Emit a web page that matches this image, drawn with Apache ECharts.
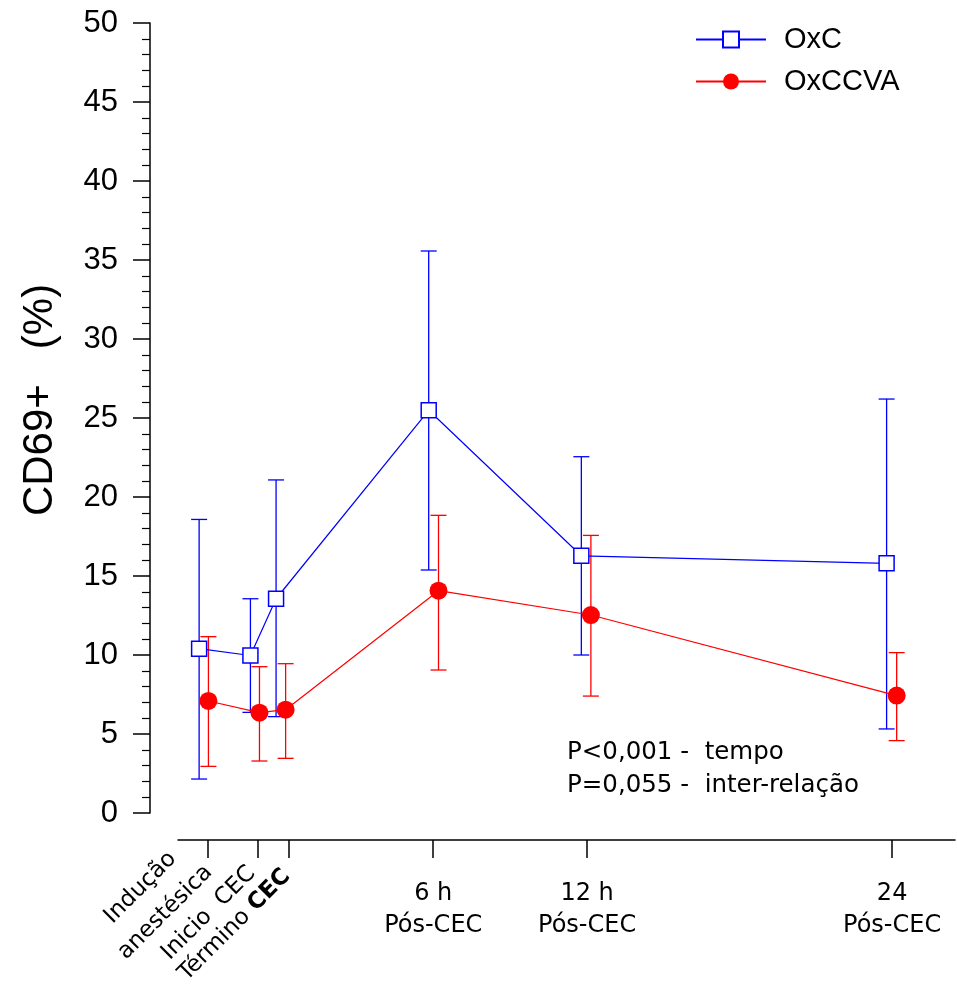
<!DOCTYPE html>
<html>
<head>
<meta charset="utf-8">
<script src="https://cdn.jsdelivr.net/npm/echarts@6/dist/echarts.min.js"></script>
<style>
html,body{margin:0;padding:0;background:#fff;}
#chart{width:957px;height:989px;}
</style>
</head>
<body>
<div id="chart"></div>
<script>
// ---- data (x in hours relative to end of CEC) ----
const timeTicks = [-3.21, -1.23, 0, 5.75, 11.87, 24.0];
const tickLabels = ['Indução\nanestésica', 'Inicio  CEC', 'Término CEC', '6 h\nPós-CEC', '12 h\nPós-CEC', '24\nPós-CEC'];
const yTicks = [0, 5, 10, 15, 20, 25, 30, 35, 40, 45, 50];

const oxcX    = [-3.56, -1.52, -0.50, 5.57, 11.64, 23.78];
const oxcMean = [10.4, 9.97, 13.56, 25.49, 16.28, 15.8];
const oxcLow  = [2.15, 6.37, 6.1, 15.38, 10.0, 5.32];
const oxcHigh = [18.58, 13.56, 21.08, 35.57, 22.55, 26.2];

const ccvaX    = [-3.19, -1.16, -0.12, 5.96, 12.02, 24.18];
const ccvaMean = [7.09, 6.35, 6.54, 14.07, 12.53, 7.43];
const ccvaLow  = [2.95, 3.29, 3.46, 9.05, 7.4, 4.58];
const ccvaHigh = [11.16, 9.26, 9.45, 18.84, 17.57, 10.15];

const seriesNames = ['OxC', 'OxCCVA'];
const statLines = ['P<0,001 -  tempo', 'P=0,055 -  inter-relação'];
const yTitle = 'CD69+   (%)';

// ---- build ----
const BLUE = '#0000ff', RED = '#ff0000';
const chart = echarts.init(document.getElementById('chart'), null, {renderer: 'canvas'});

function errBar(color) {
  return function (params, api) {
    const x = api.value(0), lo = api.value(1), hi = api.value(2);
    const pt = api.coord([x, hi]);
    const pb = api.coord([x, lo]);
    const w = 8;
    const st = {stroke: color, lineWidth: 1.3};
    return {
      type: 'group',
      children: [
        {type: 'line', shape: {x1: pt[0], y1: pt[1], x2: pb[0], y2: pb[1]}, style: st},
        {type: 'line', shape: {x1: pt[0] - w, y1: pt[1], x2: pt[0] + w, y2: pt[1]}, style: st},
        {type: 'line', shape: {x1: pb[0] - w, y1: pb[1], x2: pb[0] + w, y2: pb[1]}, style: st}
      ]
    };
  };
}

const axisFont = 'Liberation Sans, Arial, sans-serif';
const labFont = 'DejaVu Sans, Verdana, sans-serif';

const option = {
  animation: false,
  backgroundColor: '#fff',
  grid: {left: 178, right: 2, top: 23, bottom: 176, containLabel: false},
  legend: {
    orient: 'vertical',
    left: 695, top: 25, padding: 0,
    itemWidth: 70, itemHeight: 20, itemGap: 13,
    data: seriesNames,
    textStyle: {fontFamily: axisFont, fontSize: 29, color: '#000', padding: [0, 0, 0, 13]}
  },
  xAxis: {
    type: 'value', min: -4.4, max: 26.5,
    offset: 27,
    splitLine: {show: false},
    axisLine: {show: true, onZero: false, lineStyle: {color: '#000', width: 1.5}},
    axisTick: {show: true, inside: false, length: 18, lineStyle: {color: '#000', width: 1.5}, customValues: timeTicks},
    axisLabel: {
      show: true, margin: 38, customValues: timeTicks.slice(3),
      fontFamily: labFont, fontSize: 24, color: '#000', lineHeight: 32, align: 'center',
      formatter: function (v) {
        let best = 0, d = 1e9;
        timeTicks.forEach((t, i) => { if (Math.abs(t - v) < d) { d = Math.abs(t - v); best = i; } });
        return tickLabels[best];
      }
    }
  },
  yAxis: {
    type: 'value', min: 0, max: 50, interval: 5,
    offset: 28,
    splitLine: {show: false},
    axisLine: {show: true, onZero: false, lineStyle: {color: '#000', width: 1.5}},
    axisTick: {show: true, length: 17, lineStyle: {color: '#000', width: 1.5}},
    minorTick: {show: true, splitNumber: 5, length: 8, lineStyle: {color: '#000', width: 1.2}},
    axisLabel: {margin: 32, fontFamily: axisFont, fontSize: 31, color: '#000',
      formatter: v => (yTicks.indexOf(v) >= 0 ? String(v) : '')}
  },
  series: [
    {
      type: 'custom', name: 'errOxC', renderItem: errBar(BLUE), z: 1,
      data: oxcX.map((x, i) => [x, oxcLow[i], oxcHigh[i]]),
      encode: {x: 0, y: [1, 2]}, silent: true
    },
    {
      type: 'custom', name: 'errCCVA', renderItem: errBar(RED), z: 1,
      data: ccvaX.map((x, i) => [x, ccvaLow[i], ccvaHigh[i]]),
      encode: {x: 0, y: [1, 2]}, silent: true
    },
    {
      type: 'line', name: seriesNames[0], z: 3,
      data: oxcX.map((x, i) => [x, oxcMean[i]]),
      symbol: 'rect', symbolSize: 15,
      lineStyle: {color: BLUE, width: 1.2},
      itemStyle: {color: '#fff', borderColor: BLUE, borderWidth: 1.5},
      color: BLUE
    },
    {
      type: 'line', name: seriesNames[1], z: 4,
      data: ccvaX.map((x, i) => [x, ccvaMean[i]]),
      symbol: 'circle', symbolSize: 18,
      lineStyle: {color: RED, width: 1.2},
      itemStyle: {color: RED, borderColor: RED, borderWidth: 0},
      color: RED
    }
  ]
};
chart.setOption(option);

// rotated tick labels and other text
const offs = [[-55, 60], [-49, 73], [-54, 85]];
const gfx = [];
for (let i = 0; i < 3; i++) {
  const p = chart.convertToPixel({xAxisIndex: 0}, timeTicks[i]);
  const txt = i === 2 ? 'Término {b|CEC}' : tickLabels[i];
  gfx.push({
    type: 'text', x: p + offs[i][0], y: 840 + offs[i][1], rotation: Math.PI / 4,
    style: {
      text: txt, align: 'center', verticalAlign: 'middle',
      fontFamily: labFont, fontSize: 23, fill: '#000', lineHeight: 35,
      rich: {b: {fontFamily: labFont, fontSize: 23, fontWeight: 'bold', fill: '#000'}}
    }
  });
}
gfx.push({
  type: 'text', x: 40, y: 400, rotation: Math.PI / 2,
  style: {text: yTitle, align: 'center', verticalAlign: 'middle', fontFamily: axisFont, fontSize: 42, fill: '#000'}
});
statLines.forEach((s, i) => {
  gfx.push({
    type: 'text', x: 567, y: 753 + i * 33,
    style: {text: s, align: 'left', verticalAlign: 'middle', fontFamily: labFont, fontSize: 24.5, fill: '#000'}
  });
});
chart.setOption({graphic: gfx});
</script>
</body>
</html>
